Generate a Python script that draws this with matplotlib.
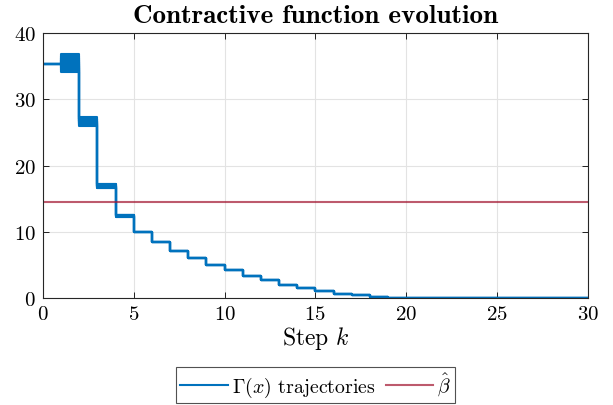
import matplotlib
matplotlib.use('Agg')
import matplotlib.pyplot as plt
import numpy as np

plt.rcParams['font.family'] = ['cmr10', 'DejaVu Serif']
plt.rcParams['mathtext.fontset'] = 'cm'
plt.rcParams['axes.unicode_minus'] = False
plt.rcParams['axes.formatter.use_mathtext'] = True

# Datos: Gamma(x) por paso k; cada fila es una trayectoria (k = 0..4)
pasos = np.arange(0, 31)
inicio = [
    [35.4, 36.9, 27.3, 17.3, 12.6],
    [35.4, 36.6, 27.1, 17.2, 12.55],
    [35.4, 36.3, 27.0, 17.1, 12.5],
    [35.4, 36.0, 26.8, 17.0, 12.5],
    [35.4, 35.7, 26.7, 16.95, 12.45],
    [35.4, 35.4, 26.6, 16.9, 12.4],
    [35.4, 35.1, 26.4, 16.8, 12.4],
    [35.4, 34.8, 26.3, 16.75, 12.35],
    [35.4, 34.5, 26.1, 16.7, 12.3],
    [35.4, 34.1, 26.0, 16.6, 12.3],
]
# Cola comun (k = 5..29)
cola = [10.05, 8.42, 7.11, 6.01, 5.01, 4.21, 3.29, 2.65, 1.95, 1.53,
        1.08, 0.68, 0.39, 0.19, 0.07, 0.03, 0.02, 0.01, 0.0, 0.0,
        0.0, 0.0, 0.0, 0.0, 0.0]
beta_hat = 14.5

azul = '#0072BD'
rojo = '#A2142F'

fig = plt.figure(figsize=(6.13, 4.06), dpi=100)
ax = fig.add_axes([0.070, 0.2635, 0.889, 0.652])

for i, fila in enumerate(inicio):
    valores = list(fila) + cola + [cola[-1]]
    ax.step(pasos, valores, where='post', color=azul, linewidth=1.5,
            label=r'$\Gamma(x)$ trajectories' if i == 0 else None)

ax.axhline(beta_hat, color=rojo, alpha=0.7, linewidth=1.5, label=r'$\hat{\beta}$')

ax.set_xlim(0, 30)
ax.set_ylim(0, 40)
ax.set_xticks([0, 5, 10, 15, 20, 25, 30])
ax.set_yticks([0, 10, 20, 30, 40])
ax.tick_params(direction='in', labelsize=15, length=4, width=0.6,
               top=True, right=True, pad=5)
ax.grid(True, color='#e3e3e3', linewidth=0.8)
ax.set_axisbelow(True)
for s in ax.spines.values():
    s.set_linewidth(0.8)
    s.set_color('#262626')

ax.set_title('Contractive function evolution', fontsize=19.5, fontfamily='cmb10', pad=8)
ax.set_xlabel(r'Step $k$', fontsize=17, labelpad=1)

leg = fig.legend(loc='center', bbox_to_anchor=(0.515, 0.05), ncol=2, fontsize=14.3,
                 frameon=True, fancybox=False, edgecolor='#262626', handlelength=2.4,
                 columnspacing=0.5, handletextpad=0.2, borderpad=0.2,
                 borderaxespad=0.0)
leg.get_frame().set_linewidth(0.8)

plt.savefig('out.png', dpi=100)
